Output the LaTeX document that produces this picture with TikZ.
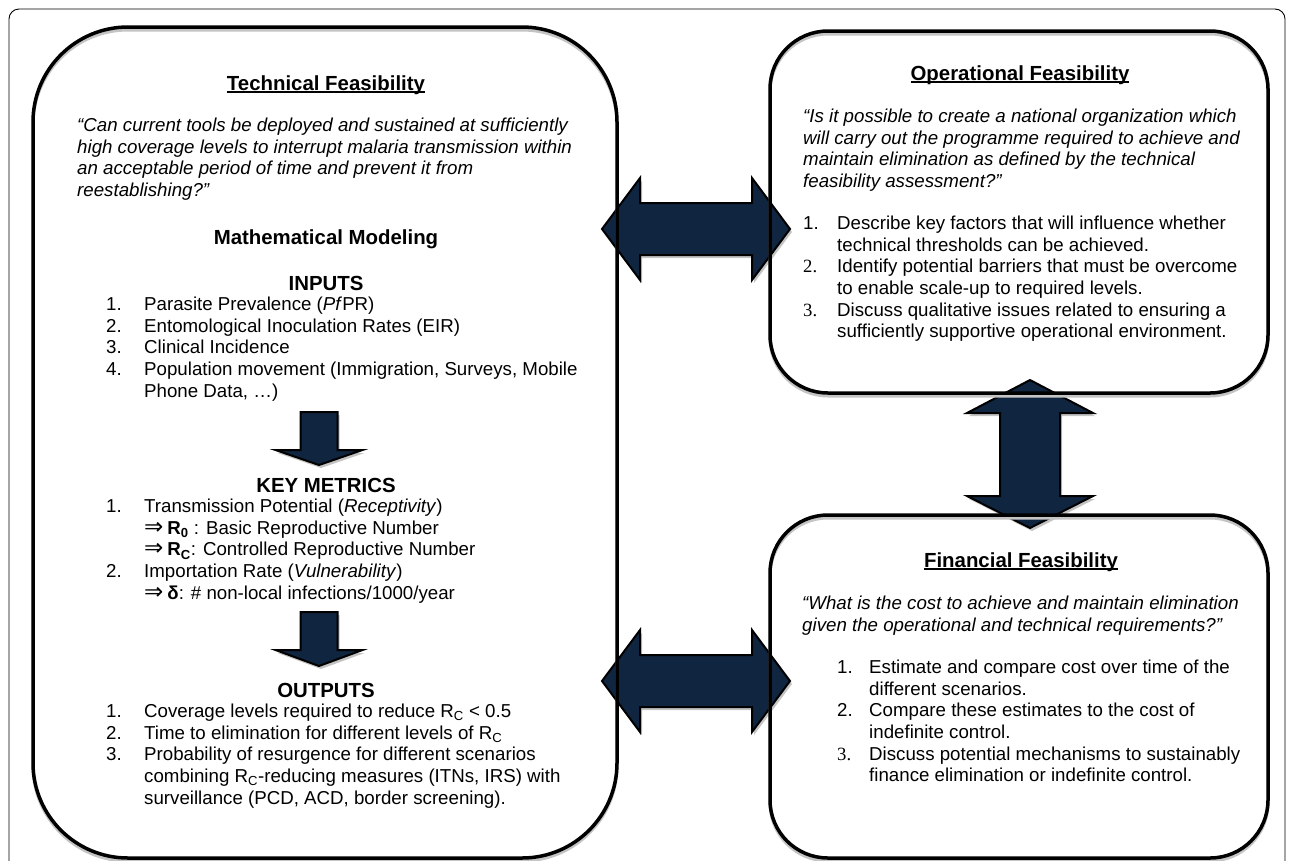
\documentclass[tikz,border=0pt]{standalone}
\usepackage{fontspec}
\setmainfont{Liberation Sans}
\newfontfamily\numfont{Liberation Serif}
\newfontfamily\symfont{DejaVu Sans}
\usetikzlibrary{positioning}
\definecolor{navy}{HTML}{10253F}
\definecolor{shade}{HTML}{C4C4C4}
\newcommand{\bodyfont}{\fontsize{18.7}{21.6}\selectfont}
\newcommand{\headfont}{\fontsize{20.4}{24}\selectfont\bfseries}
\newcommand{\ulined}[1]{\setbox0\hbox{#1}\rlap{\rule[-3pt]{\wd0}{1.8pt}}\box0}
\newcommand{\itm}[2][38pt]{\makebox[#1][l]{#2}}
\newcommand{\impl}{{\symfont\mdseries\fontsize{23}{21.6}\selectfont ⇒}\hspace{4pt}}

\begin{document}
\begin{tikzpicture}[x=1pt, y=-1pt,
  boxline/.style={draw=black, line width=3.5pt, rounded corners=#1,
    preaction={draw=shade, line width=3pt, transform canvas={yshift=-3pt}}},
  blockarrow/.style={draw=black, line width=2pt, fill=navy, line join=miter,
    preaction={draw=none, fill=shade, transform canvas={xshift=2pt, yshift=-3pt}}},
  head/.style={font=\headfont, inner sep=0pt, anchor=base},
  txt/.style={font=\bodyfont, inner sep=0pt, anchor=north west, align=left,
    yshift=15.12pt, execute at begin node=\strut},
  quote/.style={txt, font=\bodyfont\itshape}]
\useasboundingbox (0,0) rectangle (1290,860);
\clip (0,0) rectangle (1290,860);

% page frame
\draw[line width=0.9pt, rounded corners=10] (9,890) -- (9,9) -- (1285,9) -- (1285,890);

% the three boxes
\fill[white, rounded corners=95] (33,27) rectangle (617,858);
\fill[white, rounded corners=58] (770,31) rectangle (1268,393);
\fill[white, rounded corners=58] (770,515) rectangle (1268,858);

% block arrows between the boxes
\draw[blockarrow] (602,229) -- (640,178) -- (640,203) -- (752,203) -- (752,178)
  -- (790,229) -- (752,280) -- (752,255) -- (640,255) -- (640,280) -- cycle;
\draw[blockarrow] (602,681) -- (640,630) -- (640,655) -- (752,655) -- (752,630)
  -- (790,681) -- (752,732) -- (752,707) -- (640,707) -- (640,732) -- cycle;
\draw[blockarrow] (1030,380) -- (1093,413) -- (1060,413) -- (1060,496) -- (1093,496)
  -- (1030,528) -- (967,496) -- (1000,496) -- (1000,413) -- (967,413) -- cycle;

\draw[boxline=95] (33,27) rectangle (617,858);
\draw[boxline=58] (770,31) rectangle (1268,393);
\draw[boxline=58] (770,515) rectangle (1268,858);

% Technical Feasibility
\node[head] (ttech) at (326,90) {\ulined{Technical Feasibility}};
\node[quote] (qtech) at (77,133) {“Can current tools be deployed and sustained at sufficiently\\
  high coverage levels to interrupt malaria transmission within\\
  an acceptable period of time and prevent it from\\
  reestablishing?”};
\node[head] (tmath) at (326,244) {Mathematical Modeling};

\node[head] (tin) at (326,290) {INPUTS};
\node[txt] (lin) at (106,312) {\itm{1.}Parasite Prevalence (\textit{Pf}PR)\\
  \itm{2.}Entomological Inoculation Rates (EIR)\\
  \itm{3.}Clinical Incidence\\
  \itm{4.}Population movement (Immigration, Surveys, Mobile\\
  \itm{}Phone Data, …)};
\draw[blockarrow] (300.5,412) -- (337.5,412) -- (337.5,450) -- (362.5,450)
  -- (319,465) -- (275.5,450) -- (300.5,450) -- cycle;

\node[head] (tkey) at (326,492) {KEY METRICS};
\node[txt] (lkey) at (106,514) {\itm{1.}Transmission Potential (\textit{Receptivity})\\
  \itm{}\impl\textbf{R\textsubscript{0}} : Basic Reproductive Number\\
  \itm{}\impl\textbf{R\textsubscript{C}}: Controlled Reproductive Number\\
  \itm{2.}Importation Rate (\textit{Vulnerability})\\
  \itm{}\impl\textbf{δ}: \# non-local infections/1000/year};
\draw[blockarrow] (300.5,612) -- (337.5,612) -- (337.5,650) -- (362.5,650)
  -- (319,666) -- (275.5,650) -- (300.5,650) -- cycle;

\node[head] (tout) at (326,697) {OUTPUTS};
\node[txt] (lout) at (106,719) {\itm{1.}Coverage levels required to reduce R\textsubscript{C} < 0.5\\
  \itm{2.}Time to elimination for different levels of R\textsubscript{C}\\
  \itm{3.}Probability of resurgence for different scenarios\\
  \itm{}combining R\textsubscript{C}-reducing measures (ITNs, IRS) with\\
  \itm{}surveillance (PCD, ACD, border screening).};

% Operational Feasibility
\node[head] (toper) at (1020,80) {\ulined{Operational Feasibility}};
\node[quote] (qoper) at (803,124) {“Is it possible to create a national organization which\\
  will carry out the programme required to achieve and\\
  maintain elimination as defined by the technical\\
  feasibility assessment?”};
\node[txt] (loper) at (803,231) {\itm[34pt]{1.}Describe key factors that will influence whether\\
  \itm[34pt]{}technical thresholds can be achieved.\\
  \itm[34pt]{\numfont 2.}Identify potential barriers that must be overcome\\
  \itm[34pt]{}to enable scale-up to required levels.\\
  \itm[34pt]{\numfont 3.}Discuss qualitative issues related to ensuring a\\
  \itm[34pt]{}sufficiently supportive operational environment.};

% Financial Feasibility
\node[head] (tfin) at (1021,567) {\ulined{Financial Feasibility}};
\node[quote] (qfin) at (802,611) {“What is the cost to achieve and maintain elimination\\
  given the operational and technical requirements?”};
\node[txt] (lfin) at (837,675) {\itm[32pt]{1.}Estimate and compare cost over time of the\\
  \itm[32pt]{}different scenarios.\\
  \itm[32pt]{2.}Compare these estimates to the cost of\\
  \itm[32pt]{}indefinite control.\\
  \itm[32pt]{\numfont 3.}Discuss potential mechanisms to sustainably\\
  \itm[32pt]{}finance elimination or indefinite control.};
\end{tikzpicture}
\end{document}
